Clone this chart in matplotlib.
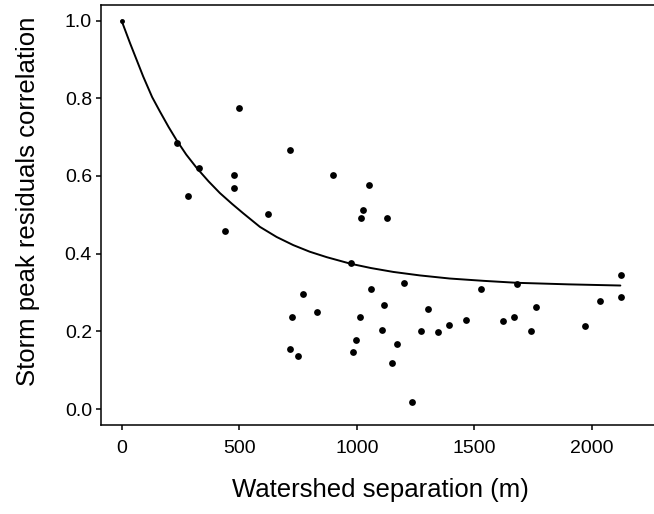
import matplotlib

matplotlib.use("Agg")
import matplotlib.pyplot as plt

plt.rcParams["font.family"] = ["Liberation Sans", "DejaVu Sans"]

separation_m = [
    498, 234, 717, 329, 479, 478, 281, 622, 439, 900, 1053, 1026, 1017, 1127,
    975, 1201, 772, 1059, 1115, 723, 830, 1014, 1107, 997, 1170, 717, 748, 983,
    1149, 1233, 1302, 1271, 1343, 1391, 1462, 1526, 1622, 1668, 1680, 1740,
    1760, 1968, 2034, 2121, 2122,
]
correlation = [
    0.775, 0.685, 0.667, 0.621, 0.603, 0.568, 0.549, 0.502, 0.458, 0.603, 0.577,
    0.512, 0.492, 0.492, 0.375, 0.325, 0.296, 0.309, 0.268, 0.237, 0.250, 0.237,
    0.203, 0.178, 0.167, 0.155, 0.136, 0.147, 0.118, 0.018, 0.258, 0.201, 0.198,
    0.216, 0.229, 0.309, 0.227, 0.237, 0.322, 0.201, 0.263, 0.214, 0.278, 0.345,
    0.288,
]

# fitted decay curve, sampled off the figure
fit_x = [0, 36, 92, 130, 163, 200, 234, 275, 319, 370, 418, 470, 517, 588,
         659, 730, 800, 872, 974, 1060, 1155, 1268, 1395, 1540, 1680, 1900,
         2120]
fit_y = [1.0, 0.942, 0.856, 0.803, 0.766, 0.726, 0.692, 0.655, 0.621, 0.586,
         0.556, 0.528, 0.504, 0.469, 0.443, 0.422, 0.405, 0.391, 0.374, 0.363,
         0.353, 0.344, 0.336, 0.330, 0.325, 0.321, 0.318]

x_ticks = [0, 500, 1000, 1500, 2000]
y_ticks = [0.0, 0.2, 0.4, 0.6, 0.8, 1.0]

fig = plt.figure(figsize=(6.54, 5.14), dpi=100)
ax = fig.add_axes([0.1544, 0.1732, 0.8456, 0.8177])

ax.plot(fit_x, fit_y, color="black", lw=1.4, solid_capstyle="round",
        solid_joinstyle="round", zorder=2)
ax.plot([fit_x[0]], [fit_y[0]], "o", color="black", ms=2.5, zorder=3)
ax.scatter(separation_m, correlation, s=24, color="black", lw=0, zorder=3)

ax.set_xlim(-87.5, 2263)
ax.set_ylim(-0.041, 1.041)
ax.set_xticks(x_ticks)
ax.set_yticks(y_ticks)
ax.set_yticklabels([f"{v:.1f}" for v in y_ticks])

for side in ("left", "bottom", "top"):
    ax.spines[side].set_linewidth(1.1)
ax.spines["right"].set_visible(False)
ax.tick_params(length=3.5, width=1.1, labelsize=14, colors="black")
ax.tick_params(axis="x", pad=7)
ax.tick_params(axis="y", pad=3)

ax.set_xlabel("Watershed separation (m)", fontsize=18.5)
ax.set_ylabel("Storm peak residuals correlation", fontsize=18.5)
ax.xaxis.set_label_coords(0.5045, -0.126)
ax.yaxis.set_label_coords(-0.110, 0.533)

fig.savefig("out.png", dpi=100)
